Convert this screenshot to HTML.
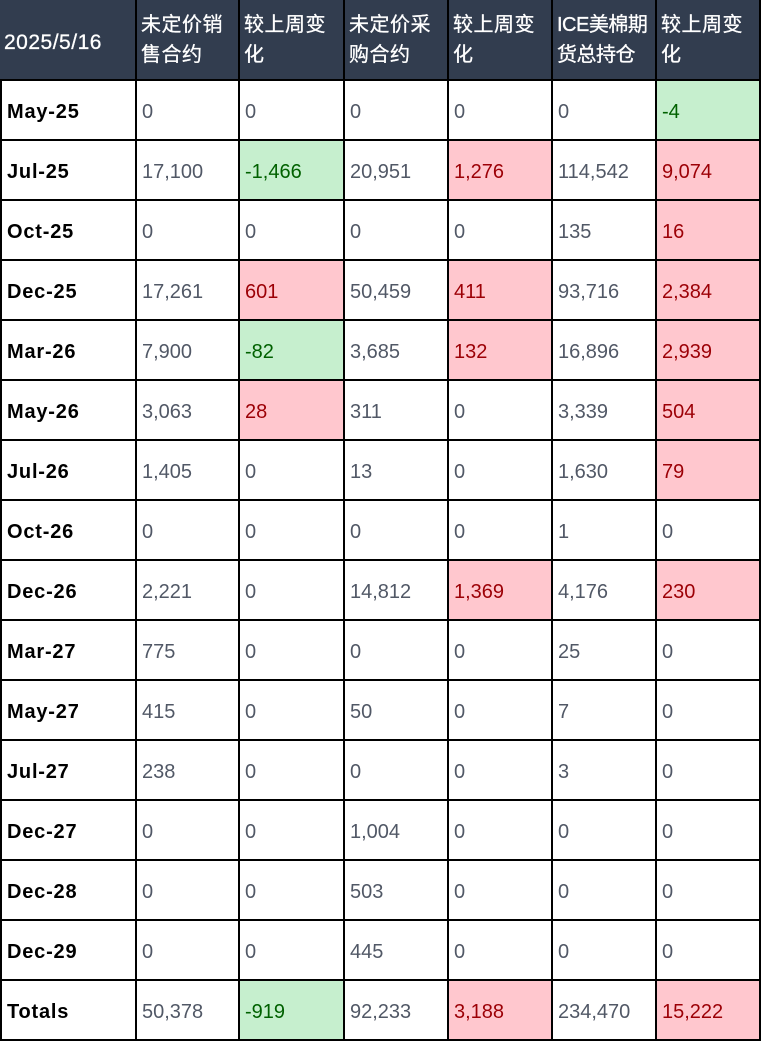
<!DOCTYPE html>
<html><head><meta charset="utf-8">
<style>
body{margin:0;width:761px;height:1042px;background:#fff;overflow:hidden;position:relative;font-family:"Liberation Sans","Noto Sans CJK SC",sans-serif;}
.c{position:absolute;box-sizing:border-box;display:flex;align-items:center;padding-left:5px;padding-top:4px;font-size:20px;color:#515866;border-right:2px solid #000;border-bottom:2px solid #000;}
.h{background:#323d4f;color:#fff;font-size:20px;line-height:30px;font-weight:normal;padding-left:4px;padding-top:0;word-break:break-all;letter-spacing:0.5px;-webkit-text-stroke:0.3px #fff;}
.lab{color:#000;font-weight:bold;font-size:20px;letter-spacing:0.8px;}
.g{background:#c6efce;color:#006100;}
.r{background:#ffc7ce;color:#9c0006;}
</style></head><body>
<script>
const headers=["2025/5/16","未定价销售合约","较上周变化","未定价采购合约","较上周变化","ICE美棉期货总持仓","较上周变化"];
const rowLabels=["May-25","Jul-25","Oct-25","Dec-25","Mar-26","May-26","Jul-26","Oct-26","Dec-26","Mar-27","May-27","Jul-27","Dec-27","Dec-28","Dec-29","Totals"];
const salesVals=["0","17,100","0","17,261","7,900","3,063","1,405","0","2,221","775","415","238","0","0","0","50,378"];
const salesChg=["0","-1,466","0","601","-82","28","0","0","0","0","0","0","0","0","0","-919"];
const purchVals=["0","20,951","0","50,459","3,685","311","13","0","14,812","0","50","0","1,004","503","445","92,233"];
const purchChg=["0","1,276","0","411","132","0","0","0","1,369","0","0","0","0","0","0","3,188"];
const oiVals=["0","114,542","135","93,716","16,896","3,339","1,630","1","4,176","25","7","3","0","0","0","234,470"];
const oiChg=["-4","9,074","16","2,384","2,939","504","79","0","230","0","0","0","0","0","0","15,222"];
const colX=[0,137,240,345,449,553,657,761];
const headerH=81,rowH=60;
const colNames=["contract-month","unpriced-sales","sales-change","unpriced-purchases","purchases-change","ice-open-interest","oi-change"];
function cell(x,y,w,h,text,cls){
  const d=document.createElement('div');
  d.className='c '+cls;
  d.style.left=x+'px';d.style.top=y+'px';d.style.width=w+'px';d.style.height=h+'px';
  d.textContent=text;
  document.body.appendChild(d);
  return d;
}
headers.forEach((t,i)=>{
  const d=cell(colX[i],0,colX[i+1]-colX[i],headerH,t,'h');
  if(i===0){d.style.fontSize='21px';d.style.paddingTop='6px';}
  if(i===5){d.innerHTML='<span style="letter-spacing:-0.5px">ICE美棉期<br>货总持仓</span>';}
  
  
});
const cols=[rowLabels,salesVals,salesChg,purchVals,purchChg,oiVals,oiChg];
rowLabels.forEach((lab,r)=>{
  const y=headerH+r*rowH;
  cols.forEach((col,i)=>{
    const v=col[r];
    let cls='';
    if(i===0)cls='lab';
    else if(i%2===0){
      const n=parseFloat(v.replace(/,/g,''));
      if(n<0)cls='g';else if(n>0)cls='r';
    }
    const d=cell(colX[i],y,colX[i+1]-colX[i],rowH,v,cls);
    if(i===0)d.style.borderLeft='2px solid #000';
    
    
  });
});
</script>
</body></html>
